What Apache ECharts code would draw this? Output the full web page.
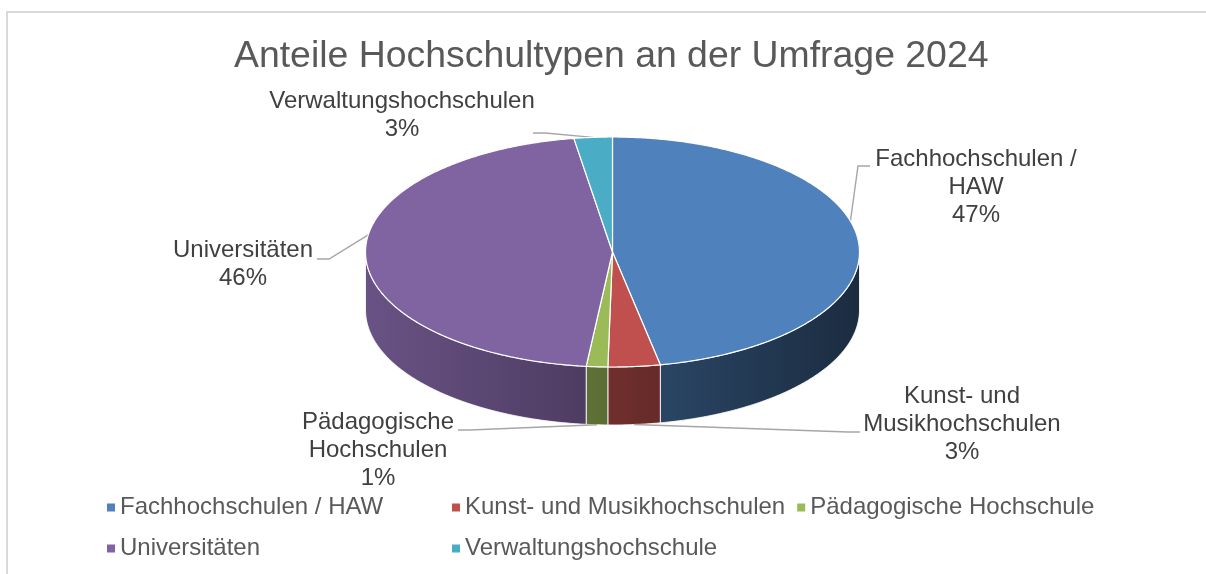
<!DOCTYPE html>
<html>
<head>
<meta charset="utf-8">
<script src="https://cdn.jsdelivr.net/npm/echarts@6/dist/echarts.min.js"></script>
<style>
html,body{margin:0;padding:0;background:#fff;}
#chart{width:1206px;height:574px;}
</style>
</head>
<body>
<div id="chart"></div>
<script>
// ---- data ----
const title = 'Anteile Hochschultypen an der Umfrage 2024';
const categories = ['Fachhochschulen / HAW', 'Kunst- und Musikhochschulen', 'Pädagogische Hochschule', 'Universitäten', 'Verwaltungshochschule'];
const labelNames = ['Fachhochschulen /\nHAW', 'Kunst- und\nMusikhochschulen', 'Pädagogische\nHochschulen', 'Universitäten', 'Verwaltungshochschulen'];
const values = [46.9, 3.4, 1.4, 45.8, 2.5];
const colors = ['#4f81bd', '#c0504d', '#9bbb59', '#8064a2', '#4bacc6'];

// ---- layout ----
const FONT = '"Liberation Sans", Arial, sans-serif';
const PIE = { cx: 612.5, cy: 252, rx: 247, ry: 115, depth: 58 };
const LABEL_LAYOUT = [
  { pos: [976, 187], attach: [870, 166], shiftDeg: -10 },
  { pos: [962, 424], attach: [860, 432], shiftDeg: 0 },
  { pos: [378, 450], attach: [458, 430], shiftDeg: 0 },
  { pos: [243, 264.5], attach: [317, 259], shiftDeg: 10 },
  { pos: [402, 115.5], attach: [533, 133], shiftDeg: 0 }
];

const total = values.reduce((a, b) => a + b, 0);
const starts = [];
values.reduce((acc, v, i) => { starts[i] = acc; return acc + v; }, 0);

function hexToRgb(h) {
  const n = parseInt(h.slice(1), 16);
  return [(n >> 16) & 255, (n >> 8) & 255, n & 255];
}
function shade(hex, f) {
  const c = hexToRgb(hex).map(v => Math.round(v * f));
  return 'rgb(' + c.join(',') + ')';
}
function pt(t, dz) {
  return [PIE.cx + PIE.rx * Math.sin(t), PIE.cy - PIE.ry * Math.cos(t) + (dz || 0)];
}
function arc(a0, a1, dz) {
  const n = Math.max(2, Math.ceil((a1 - a0) / (Math.PI / 360)));
  const pts = [];
  for (let k = 0; k <= n; k++) pts.push(pt(a0 + (a1 - a0) * k / n, dz));
  return pts;
}

function makeRender(i) {
  return function (params, api) {
    const v = api.value(0);
    const a0 = starts[i] / total * Math.PI * 2;
    const a1 = a0 + v / total * Math.PI * 2;
    const color = colors[i];
    const children = [];
    // top face
    children.push({
      type: 'polygon', z2: 10,
      shape: { points: [[PIE.cx, PIE.cy]].concat(arc(a0, a1, 0)) },
      style: { fill: color, stroke: '#ffffff', lineWidth: 1.2, lineJoin: 'round' }
    });
    // side face (front half only)
    const s0 = Math.max(a0, Math.PI / 2), s1 = Math.min(a1, Math.PI * 1.5);
    if (s1 > s0) {
      const pts = arc(s0, s1, 0).concat(arc(s0, s1, PIE.depth).reverse());
      const grad = new echarts.graphic.LinearGradient(PIE.cx - PIE.rx, 0, PIE.cx + PIE.rx, 0, [
        { offset: 0, color: shade(color, 0.82) },
        { offset: 1, color: shade(color, 0.34) }
      ], true);
      children.push({
        type: 'polygon', z2: 1,
        shape: { points: pts },
        style: { fill: grad, stroke: 'rgba(255,255,255,0.85)', lineWidth: 1 }
      });
    }
    // label + leader
    const L = LABEL_LAYOUT[i];
    const mid = (a0 + a1) / 2 + L.shiftDeg * Math.PI / 180;
    const anchor = pt(mid, Math.cos(mid) < -0.5 ? PIE.depth : 0);
    const dir = anchor[0] > L.attach[0] ? 1 : -1;
    children.push({
      type: 'polyline', z2: 5,
      shape: { points: [L.attach, [L.attach[0] + dir * 12, L.attach[1]], anchor] },
      style: { stroke: '#a6a6a6', lineWidth: 1.4, fill: null }
    });
    const pct = Math.round(v / total * 100) + '%';
    children.push({
      type: 'text', z2: 20,
      style: {
        text: labelNames[i] + '\n' + pct,
        x: L.pos[0], y: L.pos[1], align: 'center', verticalAlign: 'middle',
        fill: '#404040', fontSize: 24, fontFamily: FONT, lineHeight: 28
      }
    });
    return { type: 'group', children: children };
  };
}

const chart = echarts.init(document.getElementById('chart'), null, { renderer: 'canvas' });
chart.setOption({
  animation: false,
  backgroundColor: '#ffffff',
  title: {
    text: title, left: 234, top: 38, padding: 0,
    textStyle: { fontSize: 37.4, fontWeight: 'normal', color: '#595959', fontFamily: FONT, lineHeight: 37 }
  },
  legend: {
    data: categories, left: 107, top: 493, width: 1060, padding: 0,
    icon: 'rect', itemWidth: 8, itemHeight: 8, itemGap: 12, selectedMode: false,
    textStyle: { fontSize: 24, color: '#595959', fontFamily: FONT, width: 320, lineHeight: 29, overflow: 'none' }
  },
  graphic: [{
    type: 'rect', silent: true, z: -10,
    shape: { x: 7, y: 12, width: 1400, height: 800 },
    style: { fill: 'none', stroke: '#d9d9d9', lineWidth: 2 }
  }],
  series: categories.map((name, i) => ({
    type: 'custom', name: name, coordinateSystem: 'none',
    data: [values[i]], itemStyle: { color: colors[i] },
    renderItem: makeRender(i), silent: true
  }))
});
</script>
</body>
</html>
